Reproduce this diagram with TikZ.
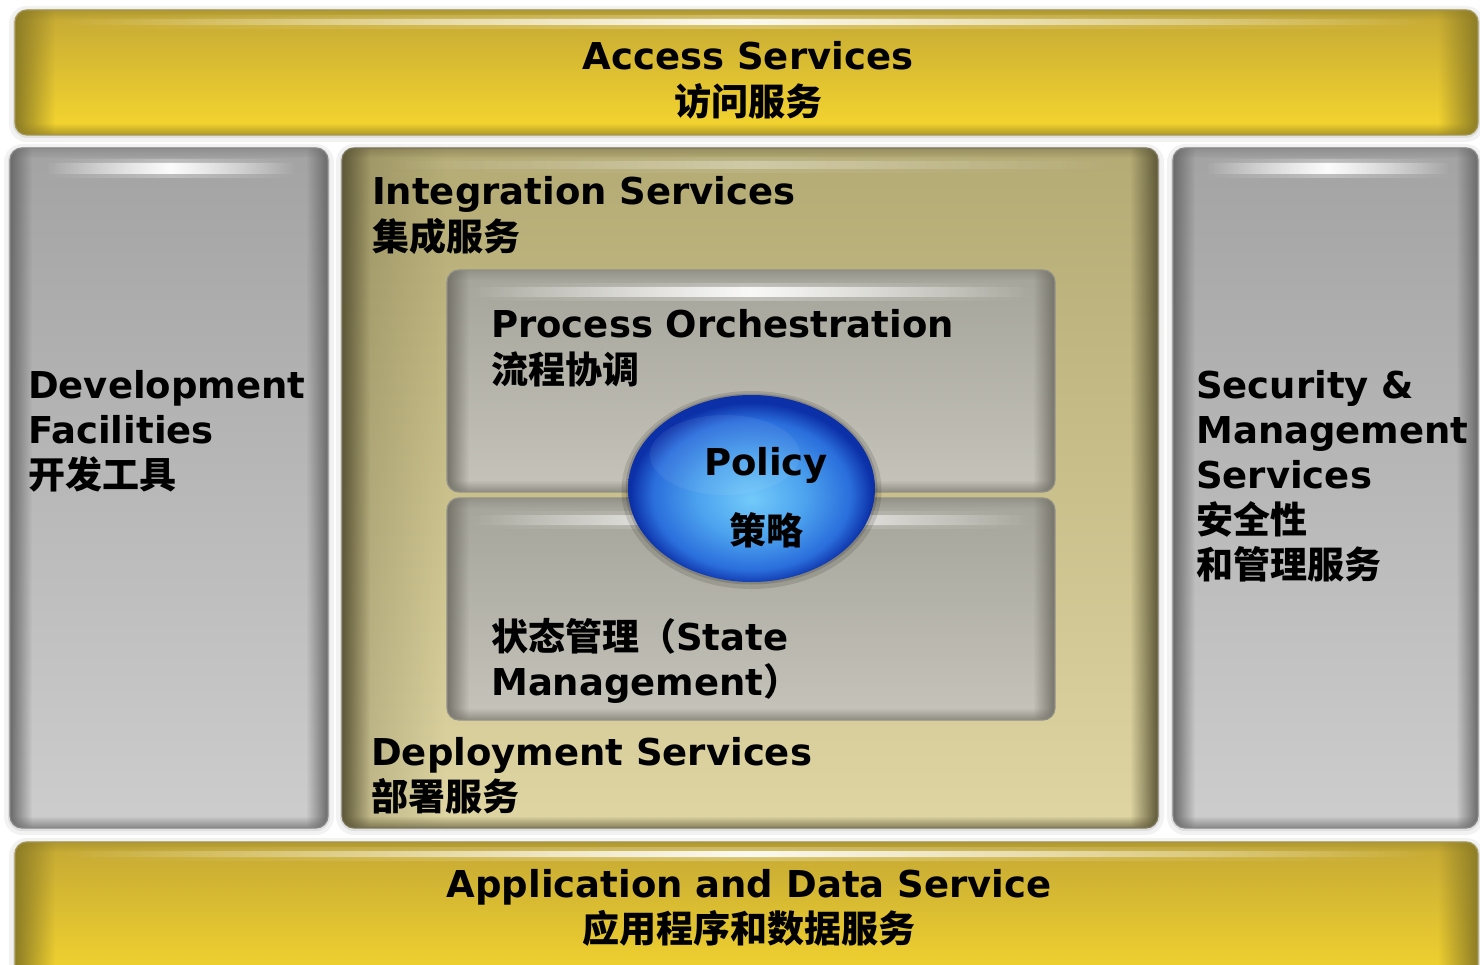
\documentclass[tikz,border=0pt]{standalone}
\usepackage{fontspec}
\setmainfont{DejaVu Sans}
\newfontfamily\cjk{Noto Sans CJK SC}
\newcommand\zh[1]{{\cjk #1}}
\usetikzlibrary{fadings,shapes.geometric,calc}

\definecolor{barTop}{HTML}{C4A834}
\definecolor{barBot}{HTML}{F7D72F}
\definecolor{barEdge}{HTML}{8C7C26}
\definecolor{grayTop}{HTML}{A3A3A3}
\definecolor{grayBot}{HTML}{CDCDCD}
\definecolor{grayEdge}{HTML}{6A6A6A}
\definecolor{oliveTop}{HTML}{B3AA74}
\definecolor{oliveBot}{HTML}{DED5A3}
\definecolor{oliveEdge}{HTML}{5E5838}
\definecolor{boxTop}{HTML}{A5A49A}
\definecolor{boxBot}{HTML}{C6C4BA}
\definecolor{boxEdge}{HTML}{76746A}
\definecolor{ballA}{HTML}{72CAFA}
\definecolor{ballB}{HTML}{4CA2EE}
\definecolor{ballC}{HTML}{2A6EDC}
\definecolor{ballD}{HTML}{0C30A8}

\tikzfading[name=fromleft, left color=transparent!0, right color=transparent!100]
\tikzfading[name=fromright, left color=transparent!100, right color=transparent!0]
\tikzfading[name=frombottom, bottom color=transparent!0, top color=transparent!100]
\tikzfading[name=fromtop, top color=transparent!0, bottom color=transparent!100]
\tikzfading[name=hlfade, left color=transparent!100, right color=transparent!100, middle color=transparent!0]

\pgfdeclareradialshading{bluedrop}{\pgfpoint{0bp}{-3bp}}{color(0bp)=(ballA); color(11bp)=(ballB); color(20bp)=(ballC); color(24.5bp)=(ballD); color(25bp)=(ballD); color(50bp)=(ballD)}

% x1 y1 x2 y2 top bottom edge edgewidth
\newcommand\glass[8]{%
\begin{scope}
\clip[rounded corners=12] (#1,#2) rectangle (#3,#4);
\shade[top color=#5, bottom color=#6] (#1,#2) rectangle (#3,#4);
\fill[#7, path fading=fromleft] (#1,#2) rectangle ({#1+#8},#4);
\fill[#7, path fading=fromright] ({#3-#8},#2) rectangle (#3,#4);
\fill[#7, opacity=.7, path fading=frombottom] (#1,{#4-12}) rectangle (#3,#4);
\fill[#7, opacity=.35, path fading=fromtop] (#1,#2) rectangle (#3,{#2+10});
\end{scope}
\draw[#7!80, line width=1.2, rounded corners=12] (#1,#2) rectangle (#3,#4);
}
% highlight strip x1 y1 x2 y2 opacity
\newcommand\shine[5]{%
\fill[white, opacity=#5*.3, path fading=hlfade, rounded corners=6] (#1,{#2-4}) rectangle (#3,{#4+4});
\fill[white, opacity=#5, path fading=hlfade, rounded corners=3] (#1,#2) rectangle (#3,#4);
}

\tikzset{
  lbl/.style={inner sep=0pt, font=\fontsize{37}{45}\selectfont\bfseries, anchor=base west},
  clbl/.style={lbl, anchor=base},
}

\begin{document}
\begin{tikzpicture}[x=1pt,y=-1pt]
\useasboundingbox (0,0) rectangle (1480,965);
\fill[white] (0,0) rectangle (1480,965);

% soft shadows
\foreach \a/\b/\c/\d in {15/10/1478/135, 10/148/328/828, 342/148/1158/828, 1173/148/1478/828, 15/842/1478/980} {
  \fill[black, opacity=.05, rounded corners=18] ({\a-6},{\b-4}) rectangle ({\c+6},{\d+7});
  \fill[black, opacity=.07, rounded corners=14] ({\a-2},{\b-1}) rectangle ({\c+2},{\d+3});
}

% top and bottom bars
\glass{15}{10}{1478}{135}{barTop}{barBot}{barEdge}{40}
\shine{60}{19}{1430}{25}{.9}
\glass{15}{842}{1478}{990}{barTop}{barBot}{barEdge}{40}
\shine{60}{851}{1430}{857}{.9}

% side panels
\glass{10}{148}{328}{828}{grayTop}{grayBot}{grayEdge}{22}
\shine{45}{163}{295}{174}{.95}
\glass{1173}{148}{1478}{828}{grayTop}{grayBot}{grayEdge}{22}
\shine{1205}{163}{1450}{174}{.95}

% middle panel
\glass{342}{148}{1158}{828}{oliveTop}{oliveBot}{oliveEdge}{28}
\begin{scope}
\clip[rounded corners=12] (342,148) rectangle (1158,828);
\fill[oliveEdge, opacity=.3, path fading=fromleft] (342,148) rectangle (445,828);
\end{scope}
\shine{380}{161}{1120}{169}{.3}

% inner boxes
\glass{447}{270}{1055}{492}{boxTop}{boxBot}{boxEdge}{22}
\shine{470}{287}{1030}{297}{.9}
\glass{447}{498}{1055}{720}{boxTop}{boxBot}{boxEdge}{22}
\shine{470}{515}{1030}{525}{.9}

% policy ball
\fill[black, opacity=.12] (751.5,490) ellipse [x radius=130, y radius=99];
\fill[black, opacity=.15] (751.5,489) ellipse [x radius=126, y radius=95.5];
\shade[shading=bluedrop] (751.5,488.5) ellipse [x radius=123.5, y radius=93.5];
\fill[white, opacity=.06] (725,455) ellipse [x radius=75, y radius=40];

% texts
\node[clbl] (access) at (748,70) {\begin{tabular}[t]{@{}c@{}}Access Services\\\zh{访问服务}\end{tabular}};
\node[lbl] (devel) at (28,398) {\begin{tabular}[t]{@{}l@{}}Development\\Facilities\\\zh{开发工具}\end{tabular}};
\node[lbl] (integ) at (372,205) {\begin{tabular}[t]{@{}l@{}}Integration Services\\\zh{集成服务}\end{tabular}};
\node[lbl] (procorch) at (491,338) {\begin{tabular}[t]{@{}l@{}}Process Orchestration\\\zh{流程协调}\end{tabular}};
\node[clbl] (policyEN) at (766,475) {Policy};
\node[clbl] (policyZH) at (766,544) {\zh{策略}};
\node[lbl] (state) at (491,650) {\begin{tabular}[t]{@{}l@{}}\zh{状态管理（}State\\Management\zh{）}\end{tabular}};
\node[lbl] (deploy) at (371,765) {\begin{tabular}[t]{@{}l@{}}Deployment Services\\\zh{部署服务}\end{tabular}};
\node[lbl] (secmgmt) at (1196,398) {\begin{tabular}[t]{@{}l@{}}Security \&\\Management\\Services\\\zh{安全性}\\\zh{和管理服务}\end{tabular}};
\node[clbl] (appdata) at (749,897) {\begin{tabular}[t]{@{}c@{}}Application and Data Service\\\zh{应用程序和数据服务}\end{tabular}};
\end{tikzpicture}
\end{document}
